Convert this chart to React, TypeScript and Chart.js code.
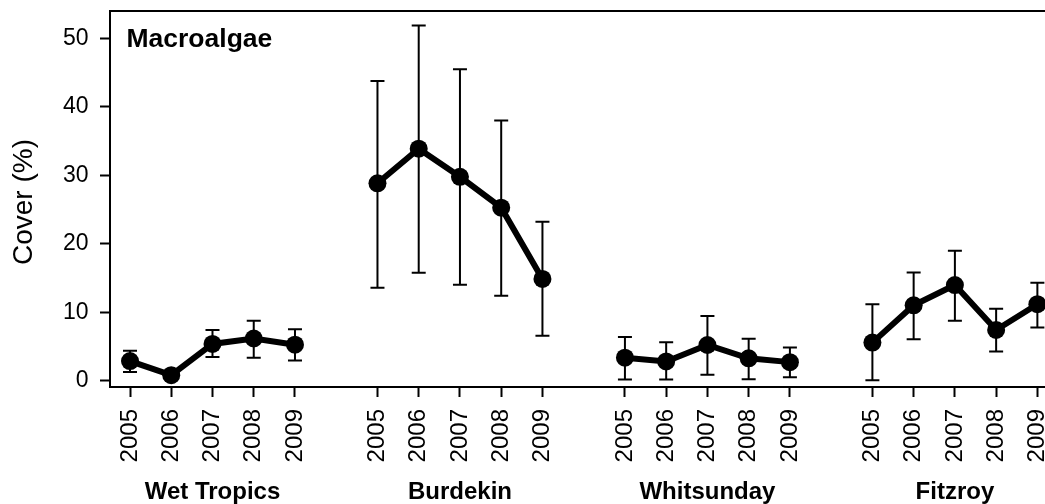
import React, { useEffect, useRef } from "react";
import { Chart, registerables } from "chart.js";

Chart.register(...registerables);

// Regions along the coast and survey years within each region
const regions = ["Wet Tropics", "Burdekin", "Whitsunday", "Fitzroy"];
const years = ["2005", "2006", "2007", "2008", "2009"];

// Mean macroalgae cover (%) with lower / upper error limits, per region
const wetTropicsCover = [2.9, 0.85, 5.4, 6.2, 5.3];
const wetTropicsLower = [1.3, 0.6, 3.5, 3.4, 3.0];
const wetTropicsUpper = [4.4, 1.1, 7.45, 8.8, 7.55];

const burdekinCover = [28.85, 33.9, 29.8, 25.3, 14.9];
const burdekinLower = [13.6, 15.8, 14.05, 12.45, 6.6];
const burdekinUpper = [43.8, 51.9, 45.5, 38.0, 23.25];

const whitsundayCover = [3.4, 2.85, 5.25, 3.3, 2.75];
const whitsundayLower = [0.2, 0.2, 0.9, 0.25, 0.55];
const whitsundayUpper = [6.4, 5.65, 9.5, 6.15, 4.9];

const fitzroyCover = [5.6, 11.05, 14.0, 7.45, 11.2];
const fitzroyLower = [0.1, 6.1, 8.8, 4.3, 7.8];
const fitzroyUpper = [11.2, 15.85, 19.0, 10.55, 14.35];

const yTicks = [0, 10, 20, 30, 40, 50];
const panelTitle = "Macroalgae";
const yAxisTitle = "Cover (%)";

const regionSeries = [
  { cover: wetTropicsCover, lower: wetTropicsLower, upper: wetTropicsUpper },
  { cover: burdekinCover, lower: burdekinLower, upper: burdekinUpper },
  { cover: whitsundayCover, lower: whitsundayLower, upper: whitsundayUpper },
  { cover: fitzroyCover, lower: fitzroyLower, upper: fitzroyUpper },
];

// Each region occupies one slot per year, with one empty slot between regions
const slotsPerRegion = years.length + 1;
const slotOf = (region: number, year: number) => region * slotsPerRegion + year;
const tickSlots = regions.flatMap((_, r) => years.map((_, i) => slotOf(r, i)));

const FONT = "'Liberation Sans', Arial, Helvetica, sans-serif";

const errorBarPlugin = {
  id: "errorBars",
  beforeDatasetsDraw(chart: any) {
    const { ctx } = chart;
    const x = chart.scales.x;
    const y = chart.scales.y;
    ctx.save();
    ctx.strokeStyle = "#000";
    ctx.lineWidth = 2;
    chart.data.datasets.forEach((ds: any) => {
      ds.data.forEach((p: any) => {
        const px = x.getPixelForValue(p.x);
        const lo = y.getPixelForValue(p.lower);
        const hi = y.getPixelForValue(p.upper);
        const cap = 7;
        ctx.beginPath();
        ctx.moveTo(px, lo);
        ctx.lineTo(px, hi);
        ctx.moveTo(px - cap, lo);
        ctx.lineTo(px + cap, lo);
        ctx.moveTo(px - cap, hi);
        ctx.lineTo(px + cap, hi);
        ctx.stroke();
      });
    });
    ctx.restore();
  },
};

const framePlugin = {
  id: "frameAndLabels",
  afterDraw(chart: any) {
    const { ctx, chartArea } = chart;
    const x = chart.scales.x;
    ctx.save();
    ctx.strokeStyle = "#000";
    ctx.lineWidth = 2;
    ctx.strokeRect(
      chartArea.left,
      chartArea.top,
      chartArea.right - chartArea.left,
      chartArea.bottom - chartArea.top
    );

    ctx.fillStyle = "#000";

    // Panel title inside the plot box
    ctx.font = `bold 26.5px ${FONT}`;
    ctx.textAlign = "left";
    ctx.textBaseline = "alphabetic";
    ctx.fillText(panelTitle, chartArea.left + 16.5, chartArea.top + 35.5);

    // Region names centred under each group of years
    ctx.font = `bold 24px ${FONT}`;
    ctx.textAlign = "center";
    regions.forEach((name, r) => {
      const mid = slotOf(r, (years.length - 1) / 2);
      ctx.fillText(name, x.getPixelForValue(mid), 499);
    });

    // Vertical axis title
    ctx.font = `28px ${FONT}`;
    ctx.translate(32, 202);
    ctx.rotate(-Math.PI / 2);
    ctx.textAlign = "center";
    ctx.fillText(yAxisTitle, 0, 0);
    ctx.restore();
  },
};

export default function App() {
  const canvasRef = useRef<HTMLCanvasElement | null>(null);

  useEffect(() => {
    if (!canvasRef.current) return;

    const datasets = regionSeries.map((s, r) => ({
      label: regions[r],
      data: s.cover.map((v, i) => ({
        x: slotOf(r, i),
        y: v,
        lower: s.lower[i],
        upper: s.upper[i],
      })),
      borderColor: "#000",
      backgroundColor: "#000",
      borderWidth: 6,
      pointRadius: 9,
      pointBorderWidth: 0,
      pointBackgroundColor: "#000",
      tension: 0,
      showLine: true,
    }));

    const chart = new Chart(canvasRef.current, {
      type: "scatter",
      data: { datasets },
      options: {
        responsive: false,
        animation: false,
        devicePixelRatio: 1,
        layout: { padding: { top: 11, right: 12, left: 0, bottom: 0 } },
        plugins: {
          legend: { display: false },
          tooltip: { enabled: false },
        },
        scales: {
          x: {
            type: "linear",
            min: -0.485,
            max: 22.5,
            afterBuildTicks: (scale: any) => {
              scale.ticks = tickSlots.map((v) => ({ value: v }));
            },
            afterFit: (scale: any) => {
              scale.height = 117;
              scale.paddingLeft = 0;
              scale.paddingRight = 0;
              scale.paddingTop = 0;
              scale.paddingBottom = 0;
            },
            grid: {
              drawOnChartArea: false,
              drawTicks: true,
              tickLength: 10,
              tickColor: "#000",
              tickWidth: 2,
            },
            border: { display: false },
            ticks: {
              autoSkip: false,
              minRotation: 90,
              maxRotation: 90,
              padding: 12,
              color: "#000",
              font: { family: FONT, size: 24 },
              callback: (v: any) => years[Math.round(Number(v)) % slotsPerRegion],
            },
          },
          y: {
            type: "linear",
            min: -0.88,
            max: 54.0,
            afterBuildTicks: (scale: any) => {
              scale.ticks = yTicks.map((v) => ({ value: v }));
            },
            afterFit: (scale: any) => {
              scale.width = 110;
              scale.paddingLeft = 0;
              scale.paddingRight = 0;
              scale.paddingTop = 0;
              scale.paddingBottom = 0;
            },
            grid: {
              drawOnChartArea: false,
              drawTicks: true,
              tickLength: 10,
              tickColor: "#000",
              tickWidth: 2,
            },
            border: { display: false },
            ticks: {
              padding: 11.5,
              color: "#000",
              font: { family: FONT, size: 23 },
              callback: (v: any) => String(v),
            },
          },
        },
      },
      plugins: [errorBarPlugin, framePlugin],
    });

    return () => chart.destroy();
  }, []);

  return (
    <div
      style={{
        position: "absolute",
        left: 0,
        top: 0,
        width: 1045,
        height: 504,
        overflow: "hidden",
        background: "#fff",
      }}
    >
      <canvas ref={canvasRef} width={1070} height={504} style={{ display: "block" }} />
    </div>
  );
}
